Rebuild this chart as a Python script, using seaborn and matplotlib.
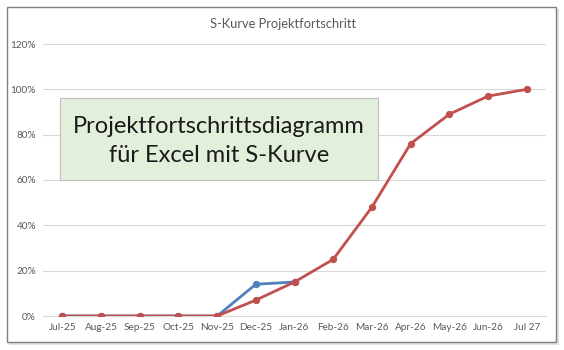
import pandas as pd
import matplotlib.pyplot as plt
import seaborn as sns
from matplotlib.patches import Rectangle
from matplotlib.ticker import PercentFormatter

months = ["Jul-25", "Aug-25", "Sep-25", "Oct-25", "Nov-25", "Dec-25", "Jan-26",
          "Feb-26", "Mar-26", "Apr-26", "May-26", "Jun-26", "Jul 27"]
planned = [0, 0, 0, 0, 0, 0.07, 0.15, 0.25, 0.48, 0.76, 0.89, 0.97, 1.00]
actual = [0, 0, 0, 0, 0, 0.14, 0.15]

title = "S-Kurve Projektfortschritt"
box_text = "Projektfortschrittsdiagramm\nfür Excel mit S-Kurve"

blue = "#4F81BD"
red = "#C0504D"
grey = "#595959"


def main():
    sns.set_style("white")
    plt.rcParams["font.family"] = ["Lato", "DejaVu Sans"]

    df_plan = pd.DataFrame({"x": range(len(planned)), "y": planned})
    df_act = pd.DataFrame({"x": range(len(actual)), "y": actual})

    fig = plt.figure(figsize=(5.64, 3.5), dpi=100)
    fig.patch.set_facecolor("white")

    # chart frame with a soft shadow (kept behind the axes)
    fig.patches.append(Rectangle((9 / 564, 1 - 345 / 350), 550 / 564, 336 / 350,
                                 transform=fig.transFigure, facecolor="#cfcfcf",
                                 edgecolor="none", alpha=0.6, zorder=-2))
    fig.patches.append(Rectangle((7 / 564, 1 - 342 / 350), 549 / 564, 335 / 350,
                                 transform=fig.transFigure, facecolor="white",
                                 edgecolor="#7f7f7f", linewidth=1.0, zorder=-1))

    ax = fig.add_axes([43 / 564, 1 - 316 / 350, 503 / 564, 272 / 350])
    ax.set_facecolor("none")

    sns.lineplot(data=df_act, x="x", y="y", ax=ax, color=blue, linewidth=2.0,
                 marker="o", markersize=4.5, markeredgecolor=blue, zorder=3)
    sns.lineplot(data=df_plan, x="x", y="y", ax=ax, color=red, linewidth=2.0,
                 marker="o", markersize=4.5, markeredgecolor=red, zorder=4)

    ax.set_xlim(-0.5, len(months) - 0.5)
    ax.set_ylim(0, 1.2)
    ax.set_xticks(range(len(months)))
    ax.set_xticklabels(months)
    ax.set_yticks([0, 0.2, 0.4, 0.6, 0.8, 1.0, 1.2])
    ax.yaxis.set_major_formatter(PercentFormatter(1.0, decimals=0))
    ax.tick_params(axis="both", labelsize=7.2, labelcolor=grey, length=0, pad=5)
    ax.set_xlabel("")
    ax.set_ylabel("")
    ax.grid(axis="y", color="#d9d9d9", linewidth=0.8)
    ax.set_axisbelow(True)
    for side in ["top", "right", "left"]:
        ax.spines[side].set_visible(False)
    ax.spines["bottom"].set_color("#d9d9d9")

    fig.text(283 / 564, 1 - 24 / 350, title, ha="center", va="center",
             fontsize=9.3, color=grey)

    # green note box
    fig.patches.append(Rectangle((60 / 564, 1 - 180 / 350), 318 / 564, 82 / 350,
                                 transform=fig.transFigure, facecolor="#e2efda",
                                 edgecolor="#bfbfbf", linewidth=0.8, zorder=5))
    fig.text(219 / 564, 1 - 141 / 350, box_text, ha="center", va="center",
             fontsize=17, color="#1a1a1a", linespacing=1.45, zorder=6)

    fig.savefig("out.png", dpi=100)


if __name__ == "__main__":
    main()
